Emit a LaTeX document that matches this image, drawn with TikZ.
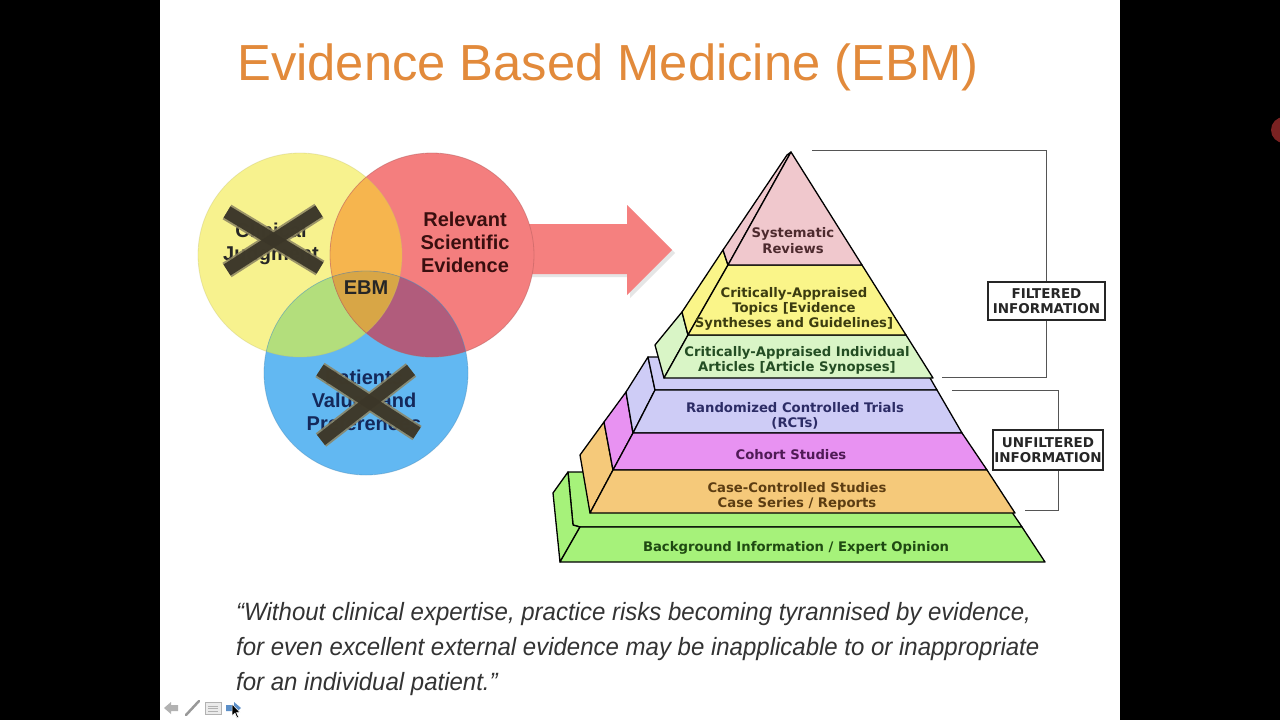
\documentclass[tikz,border=0pt]{standalone}
\usepackage{fontspec}
\setmainfont{Liberation Sans}
\newfontfamily\dejavu{DejaVu Sans}
\newfontfamily\qfont[FakeStretch=0.96]{Liberation Sans}
\definecolor{titleorange}{HTML}{E28A3B}
\definecolor{cyel}{HTML}{F7F28E}
\definecolor{cred}{HTML}{F47E7E}
\definecolor{cblu}{HTML}{62B8F2}
\definecolor{cyr}{HTML}{F6B54E}
\definecolor{cyb}{HTML}{B3DE7C}
\definecolor{crb}{HTML}{B15C7C}
\definecolor{cmid}{HTML}{D8A646}
\definecolor{xdark}{HTML}{3B3628}
\definecolor{xlight}{HTML}{8C8462}
\definecolor{tpink}{HTML}{F0C8CD}
\definecolor{tyel}{HTML}{FAF589}
\definecolor{tlgreen}{HTML}{D9F5C6}
\definecolor{tlav}{HTML}{CECCF6}
\definecolor{tmag}{HTML}{E892F2}
\definecolor{torange}{HTML}{F5C97A}
\definecolor{tgreen}{HTML}{A6F27A}
\definecolor{quotegray}{HTML}{333333}
\definecolor{tpinkt}{HTML}{4D2A2E}
\definecolor{tyelt}{HTML}{3C3C10}
\definecolor{tlgreent}{HTML}{234D23}
\definecolor{tlavt}{HTML}{2C2C66}
\definecolor{tmagt}{HTML}{4F1A55}
\definecolor{torangt}{HTML}{5C3D12}
\definecolor{tgreent}{HTML}{1F4A12}
\definecolor{arrowred}{HTML}{F5807F}
\definecolor{bracketgray}{HTML}{555555}
\definecolor{navytext}{HTML}{14285A}
\definecolor{maroontext}{HTML}{3A0F0F}
\definecolor{dotred}{HTML}{7A2222}
\definecolor{navblue}{HTML}{5C8FC8}
\tikzset{
  tier/.style={draw=black, line width=1.3pt, line join=round},
  ptext/.style={align=center, inner sep=0pt, font={\dejavu\bfseries\fontsize{13.2}{15.2}\selectfont}},
  vtext/.style={align=center, inner sep=0pt, font={\bfseries\fontsize{20}{23}\selectfont}},
  infobox/.style={draw=black!85, line width=1.5pt, fill=white, align=center, inner sep=0pt,
     font={\dejavu\bfseries\fontsize{13.5}{15.5}\selectfont}, text=black!85},
  bracket/.style={draw=bracketgray, line width=1pt},
  quote/.style={anchor=base west, inner sep=0pt, text=quotegray, font={\qfont\itshape\fontsize{25}{35}\selectfont}},
  xmarkl/.style={line width=17pt, xlight, opacity=0.85},
  xmarkd/.style={line width=13pt, xdark, opacity=0.95}
}
\begin{document}
\begin{tikzpicture}[x=1pt,y=-1pt]
\useasboundingbox (0,0) rectangle (1280,720);
\fill[black] (0,0) rectangle (1280,720);
\fill[white] (160,0) rectangle (1120,720);
\fill[dotred] (1284,130) circle (13pt);

% title
\node[anchor=base west, inner sep=0pt, text=titleorange, font={\fontsize{50.7}{60}\selectfont}] (title) at (237,80) {Evidence Based Medicine (EBM)};

% big arrow
\fill[black!25, opacity=0.4] (528,227) -- (630,227) -- (630,208) -- (675,253) -- (630,298) -- (630,277) -- (528,277) -- cycle;
\fill[arrowred] (525,224) -- (627,224) -- (627,205) -- (672,250) -- (627,295) -- (627,274) -- (525,274) -- cycle;

% venn
\coordinate (cy) at (300,255);
\coordinate (cr) at (432,255);
\coordinate (cb) at (366,373);
\fill[cyel] (cy) circle (102pt);
\fill[cred] (cr) circle (102pt);
\fill[cblu] (cb) circle (102pt);
\begin{scope}
  \clip (cy) circle (102pt);
  \fill[cyr] (cr) circle (102pt);
  \fill[cyb] (cb) circle (102pt);
  \clip (cr) circle (102pt);
  \fill[cmid] (cb) circle (102pt);
\end{scope}
\begin{scope}
  \clip (cr) circle (102pt);
  \fill[crb] (cb) circle (102pt);
  \clip (cy) circle (102pt);
  \fill[cmid] (cb) circle (102pt);
\end{scope}
\draw[cyel!80!black, opacity=0.35, line width=0.8pt] (cy) circle (102pt);
\draw[cred!75!black, opacity=0.5, line width=0.8pt] (cr) circle (102pt);
\draw[cblu!75!black, opacity=0.4, line width=0.8pt] (cb) circle (102pt);

\node[vtext, text=maroontext] (rse) at (465,242) {Relevant\\Scientific\\Evidence};
\node[vtext, text=black!85] (ebm) at (366,288) {EBM};
\node[vtext, text=black!85] (cj) at (271,244) {Clinical\\Judgment};
\node[vtext, text=navytext] (pvp) at (364,400) {Patients\\Values and\\Preferences};

% crosses
\draw[xmarkl] (227,212) -- (320,268);
\draw[xmarkl] (319,211) -- (227,270);
\draw[xmarkd] (227,212) -- (320,268);
\draw[xmarkd] (319,211) -- (227,270);
\draw[xmarkl] (320,370) -- (417,433);
\draw[xmarkl] (411,370) -- (321,440);
\draw[xmarkd] (320,370) -- (417,433);
\draw[xmarkd] (411,370) -- (321,440);

% ---- pyramid ----
% background block
\filldraw[tier, fill=tgreen] (568,472) -- (985,472) -- (1022,527) -- (580,527) -- (573,525) -- cycle;
\filldraw[tier, fill=tgreen] (568,472) -- (553,493) -- (560,562) -- (580,527) -- (573,525) -- cycle;
\filldraw[tier, fill=tgreen] (580,527) -- (1022,527) -- (1045,562) -- (560,562) -- cycle;
% unfiltered block sides and top
\filldraw[tier, fill=torange] (604,422) -- (613,470) -- (590,513) -- (580,455) -- cycle;
\filldraw[tier, fill=tmag] (626,392) -- (633,433) -- (613,470) -- (604,422) -- cycle;
\filldraw[tier, fill=tlav] (648,357) -- (655,390) -- (633,433) -- (626,392) -- cycle;
\filldraw[tier, fill=tlav] (648,357) -- (918,357) -- (937,390) -- (655,390) -- cycle;
% front faces
\filldraw[tier, fill=tlav] (655,390) -- (937,390) -- (962,433) -- (633,433) -- cycle;
\filldraw[tier, fill=tmag] (633,433) -- (962,433) -- (987,470) -- (613,470) -- cycle;
\filldraw[tier, fill=torange] (613,470) -- (987,470) -- (1015,513) -- (590,513) -- cycle;
% filtered pyramid sides
\filldraw[tier, fill=tlgreen] (682,312) -- (688,335) -- (664,378) -- (655,345) -- cycle;
\filldraw[tier, fill=tyel] (723,250) -- (728,265) -- (688,335) -- (682,312) -- cycle;
\filldraw[tier, fill=tpink] (787,155) -- (791,152) -- (728,265) -- (723,250) -- cycle;
% filtered front faces
\filldraw[tier, fill=tlgreen] (688,335) -- (906,335) -- (933,378) -- (664,378) -- cycle;
\filldraw[tier, fill=tyel] (728,265) -- (862,265) -- (906,335) -- (688,335) -- cycle;
\filldraw[tier, fill=tpink] (791,152) -- (862,265) -- (728,265) -- cycle;

\node[ptext, text=tpinkt] (sr) at (793,240.5) {Systematic\\Reviews};
\node[ptext, text=tyelt] (cat) at (794,309) {Critically-Appraised\\Topics [Evidence\\Syntheses and Guidelines]};
\node[ptext, text=tlgreent] (cai) at (797,360.5) {Critically-Appraised Individual\\Articles [Article Synopses]};
\node[ptext, text=tlavt] (rct) at (795,415.5) {Randomized Controlled Trials\\(RCTs)};
\node[ptext, text=tmagt] (coh) at (791,455) {Cohort Studies};
\node[ptext, text=torangt] (ccs) at (797,496) {Case-Controlled Studies\\Case Series / Reports};
\node[ptext, text=tgreent] (bio) at (796,548) {Background Information / Expert Opinion};

% brackets
\node[infobox, minimum width=117pt, minimum height=38pt] (fbox) at (1046.5,301) {FILTERED\\INFORMATION};
\node[infobox, minimum width=110pt, minimum height=40pt] (ubox) at (1048,450) {UNFILTERED\\INFORMATION};
\coordinate (ftop) at (812,150);
\coordinate (fbot) at (942,377);
\coordinate (utop) at (952,390);
\coordinate (ubot) at (1025,510);
\draw[bracket] (ftop) -| (fbox.north);
\draw[bracket] (fbox.south) |- (fbot);
\draw[bracket] (utop) -| ([xshift=10pt]ubox.north);
\draw[bracket] ([xshift=10pt]ubox.south) |- (ubot);

% quote
\node[quote] (q1) at (236,620) {\char"201C Without clinical expertise, practice risks becoming tyrannised by evidence,};
\node[quote] (q2) at (236,655) {for even excellent external evidence may be inapplicable to or inappropriate};
\node[quote] (q3) at (236,690) {for an individual patient.\char"201D};

% nav icons
\fill[black!30] (164,708) -- (171,702) -- (171,705) -- (178,705) -- (178,711) -- (171,711) -- (171,714) -- cycle;
\draw[black!40, line width=2.5pt, line cap=round] (186,715) -- (199,701);
\draw[black!30, fill=black!8, line width=0.8pt] (205,702) rectangle (221,714);
\draw[black!30, line width=0.8pt] (208,706) -- (218,706) (208,708.5) -- (218,708.5) (208,711) -- (218,711);
\fill[navblue] (226,705) -- (234,705) -- (234,702) -- (241,708) -- (234,714) -- (234,711) -- (226,711) -- cycle;
\filldraw[fill=black, draw=white, line width=0.5pt] (232,704) -- (232,716) -- (235,713) -- (237,718) -- (238.5,717) -- (236.5,712.5) -- (240,712.5) -- cycle;
\end{tikzpicture}
\end{document}
